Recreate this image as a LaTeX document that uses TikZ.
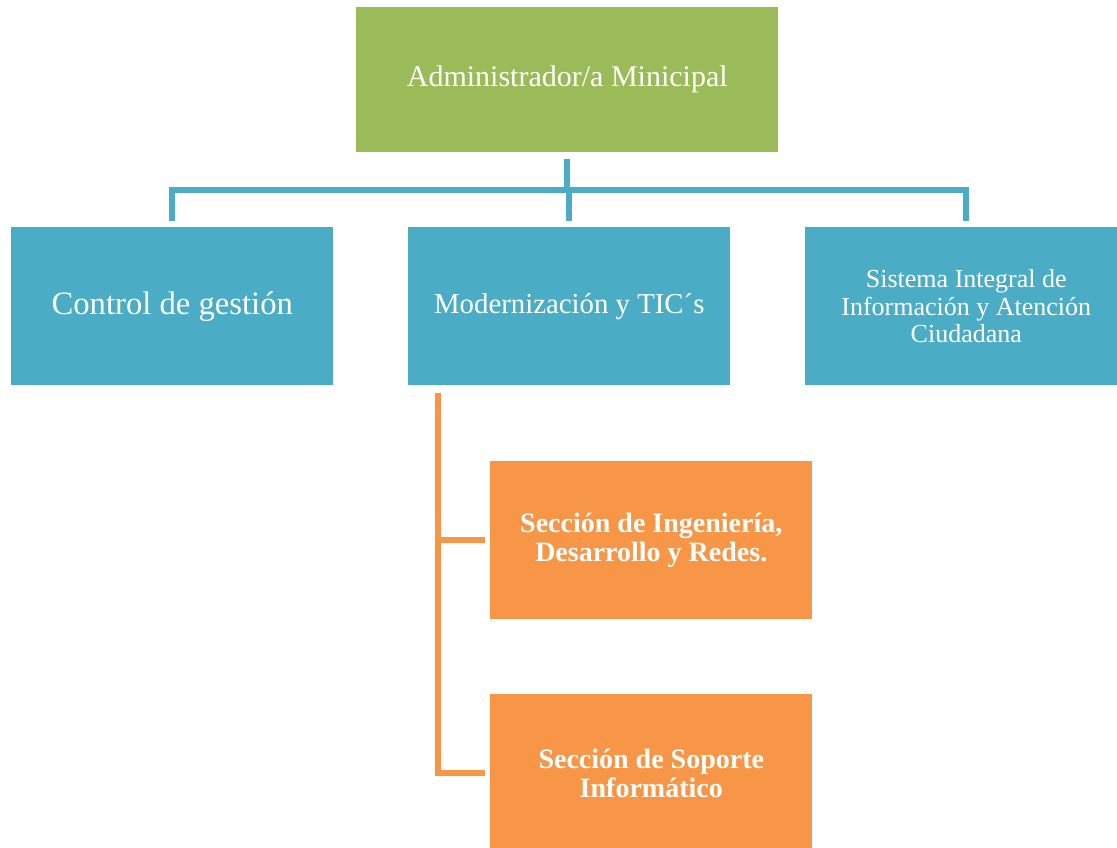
\documentclass[tikz,border=0pt]{standalone}
\usepackage{fontspec}
\setmainfont{Liberation Serif}
\definecolor{cgreen}{HTML}{9BBB59}
\definecolor{cblue}{HTML}{4BACC6}
\definecolor{corange}{HTML}{F79646}
\begin{document}
\begin{tikzpicture}[x=0.75pt,y=-0.75pt,
  box/.style={minimum width=241.5pt, minimum height=118.5pt, text=white,
    align=center, inner sep=0pt, anchor=north west},
  bluebox/.style={box, fill=cblue},
  orbox/.style={box, fill=corange, font=\bfseries\fontsize{21}{22}\selectfont},
  blueline/.style={draw=cblue, line width=4.5pt},
  orline/.style={draw=corange, line width=4.5pt}]
\clip (0,0) rectangle (1117,848);
% top level
\node[box, fill=cgreen, minimum width=316.5pt, minimum height=108.75pt,
  font=\fontsize{22.5}{24}\selectfont] (admin) at (356,7) {Administrador/a Minicipal};
% second level
\node[bluebox, font=\fontsize{24.5}{28}\selectfont] (ctrl) at (11,227) {Control de gestión};
\node[bluebox, font=\fontsize{21.6}{24}\selectfont] (mod) at (408,227) {Modernización y TIC´s};
\node[bluebox, font=\fontsize{19.5}{20.5}\selectfont] (sis) at (805,227)
  {Sistema Integral de\\Información y Atención\\Ciudadana};
% sections under Modernización
\node[orbox] (ing) at (490,461) {Sección de Ingeniería,\\Desarrollo y Redes.};
\node[orbox] (sop) at (490,694) {Sección de Soporte\\Informático};
% blue connectors
\coordinate (bar) at (568,190);
\draw[blueline, shorten <=4.5pt] (admin.south) -- (admin.south |- bar);
\draw[blueline, shorten <=4.5pt, shorten >=4.5pt]
  (ctrl.north) -- (ctrl.north |- bar) -- (sis.north |- bar) -- (sis.north);
\draw[blueline, shorten >=4.5pt] (mod.north |- bar) -- (mod.north);
% orange connectors
\coordinate (trunk) at ([xshift=22.5pt]mod.south west);
\draw[orline, shorten <=5.25pt, shorten >=3.75pt] (trunk) |- (ing.west);
\draw[orline, shorten <=5.25pt, shorten >=3.75pt] (trunk) |- (sop.west);
\end{tikzpicture}
\end{document}
